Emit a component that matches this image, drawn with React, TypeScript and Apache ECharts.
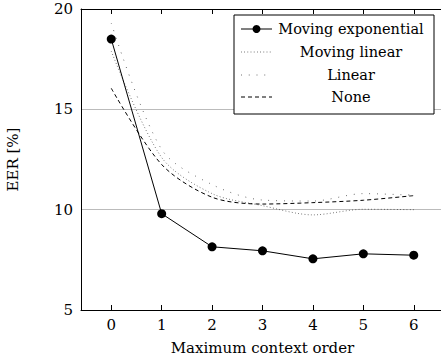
import React, { useEffect, useRef } from "react";
import * as echarts from "echarts";

const orders = [0, 1, 2, 3, 4, 5, 6];
const movingExponential = [18.5, 9.8, 8.15, 7.95, 7.55, 7.8, 7.73];
const movingLinear = [17.9, 12.6, 10.8, 10.2, 9.74, 10.02, 10.0];
const linear = [19.3, 13.0, 11.25, 10.48, 10.43, 10.8, 10.72];
const none = [16.05, 12.25, 10.62, 10.28, 10.35, 10.47, 10.7];
const seriesNames = ["Moving exponential", "Moving linear", "Linear", "None"];
const yTicks = [5, 10, 15, 20];

const FONT = "DejaVu Serif";

export default function App() {
  const ref = useRef<HTMLDivElement>(null);
  useEffect(() => {
    if (!ref.current) return;
    const chart = echarts.init(ref.current, null, { renderer: "svg" });
    const pair = (ys: number[]) => orders.map((x, i) => [x, ys[i]]);

    const lgX = 234, lgY = 15, lgW = 200, lgH = 99;
    const rowY = [29, 52, 75, 97];
    const sx0 = 241, sx1 = 272, textX = 351;
    const lineStyles: any[] = [
      { stroke: "#000", lineWidth: 1 },
      { stroke: "#333", lineWidth: 0.8, lineDash: [0.8, 2.4] },
      { stroke: "#222", lineWidth: 0.8, lineDash: [0.8, 7] },
      { stroke: "#000", lineWidth: 1, lineDash: [4, 3] },
    ];
    const legendEls: any[] = [
      {
        type: "rect",
        shape: { x: lgX, y: lgY, width: lgW, height: lgH },
        style: { fill: "#fff", stroke: "#000", lineWidth: 1 },
        z: 100,
      },
    ];
    seriesNames.forEach((name, i) => {
      legendEls.push({
        type: "line",
        shape: { x1: sx0, y1: rowY[i], x2: sx1, y2: rowY[i] },
        style: lineStyles[i],
        z: 101,
      });
      legendEls.push({
        type: "text",
        x: textX,
        y: rowY[i],
        style: {
          text: name,
          fontFamily: FONT,
          fontSize: 14.5,
          fill: "#000",
          align: "center",
          verticalAlign: "middle",
        },
        z: 101,
      });
    });
    legendEls.push({
      type: "circle",
      shape: { cx: (sx0 + sx1) / 2, cy: rowY[0], r: 4 },
      style: { fill: "#000" },
      z: 102,
    });

    const labelStyle = { fontFamily: FONT, fontSize: 15, color: "#000" };

    chart.setOption({
      animation: false,
      textStyle: { fontFamily: FONT },
      grid: {
        left: 81,
        top: 9,
        width: 363,
        height: 301,
        containLabel: false,
        outerBoundsMode: "none",
        show: false,
      },
      xAxis: [
        {
          type: "value",
          min: -0.6,
          max: 6.6,
          name: "Maximum context order",
          nameLocation: "middle",
          nameGap: 30,
          nameTextStyle: labelStyle,
          axisLine: { show: true, onZero: false, lineStyle: { color: "#000", width: 1 } },
          axisTick: { show: true, inside: true, length: 5, lineStyle: { color: "#000" }, customValues: orders },
          axisLabel: { ...labelStyle, margin: 7, customValues: orders },
          splitLine: { show: false },
        },
        {
          type: "value",
          position: "top",
          min: -0.6,
          max: 6.6,
          axisLine: { show: true, onZero: false, lineStyle: { color: "#000", width: 1 } },
          axisTick: { show: true, inside: true, length: 5, lineStyle: { color: "#000" }, customValues: orders },
          axisLabel: { show: false },
          splitLine: { show: false },
        },
      ],
      yAxis: {
        type: "value",
        min: 5,
        max: 20,
        interval: 5,
        name: "EER [%]",
        nameLocation: "middle",
        nameRotate: 90,
        nameGap: 61,
        nameTextStyle: labelStyle,
        axisLine: { show: true, onZero: false, lineStyle: { color: "#000", width: 1 } },
        axisTick: { show: false },
        axisLabel: {
          ...labelStyle,
          margin: 8,
          formatter: (v: number) => (yTicks.includes(v) ? String(v) : ""),
        },
        splitLine: { show: true, lineStyle: { color: "#bbb", width: 1 } },
      },
      graphic: legendEls,
      series: [
        {
          name: seriesNames[0],
          type: "line",
          data: pair(movingExponential),
          symbol: "circle",
          symbolSize: 9,
          itemStyle: { color: "#000" },
          lineStyle: { color: "#000", width: 1 },
          z: 5,
        },
        {
          name: seriesNames[1],
          type: "line",
          data: pair(movingLinear),
          smooth: 0.3,
          showSymbol: false,
          symbol: "none",
          lineStyle: { color: "#333", width: 0.8, type: [0.8, 2.4] },
        },
        {
          name: seriesNames[2],
          type: "line",
          data: pair(linear),
          smooth: 0.3,
          showSymbol: false,
          symbol: "none",
          lineStyle: { color: "#222", width: 0.8, type: [0.8, 7] },
        },
        {
          name: seriesNames[3],
          type: "line",
          data: pair(none),
          smooth: 0.3,
          showSymbol: false,
          symbol: "none",
          lineStyle: { color: "#000", width: 1, type: [4, 3] },
        },
      ],
    });

    // Hide a stray vertical edge line at the right border of the canvas,
    // then restore the grid lines across that strip using the axis scale.
    const topPx = chart.convertToPixel({ yAxisIndex: 0 }, 20) as number;
    const botPx = chart.convertToPixel({ yAxisIndex: 0 }, 5) as number;
    if (isFinite(topPx) && isFinite(botPx)) {
      const snap = (y: number) => {
        const d = Math.round(y * 2);
        return (d + 1) % 2 === 0 ? d / 2 : (d + 1) / 2;
      };
      const extra: any[] = [
        {
          type: "rect",
          shape: { x: 436, y: topPx + 1.5, width: 8, height: botPx - topPx - 3 },
          style: { fill: "#fff" },
          z: 50,
        },
      ];
      [10, 15].forEach((v) => {
        const y = snap(chart.convertToPixel({ yAxisIndex: 0 }, v) as number);
        extra.push({
          type: "line",
          shape: { x1: 435, y1: y, x2: 445, y2: y },
          style: { stroke: "#bbb", lineWidth: 1 },
          z: 51,
        });
      });
      chart.setOption({ graphic: [...legendEls, ...extra] });
    }
    return () => chart.dispose();
  }, []);
  return (
    <div
      ref={ref}
      style={{ position: "fixed", left: 0, top: 0, width: 441, height: 362, background: "#fff" }}
    />
  );
}
